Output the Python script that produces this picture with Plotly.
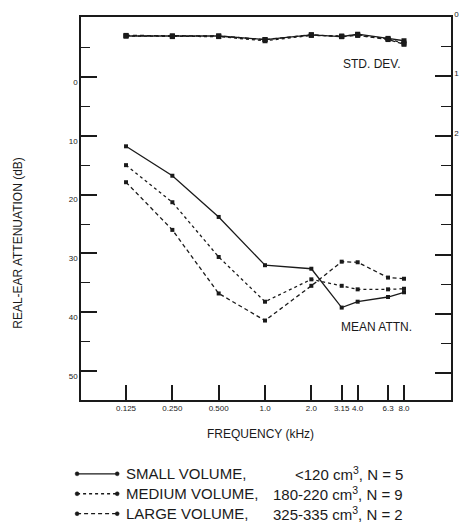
import plotly.graph_objects as go

# ---- data ----
freq_khz = [0.125, 0.25, 0.5, 1.0, 2.0, 3.15, 4.0, 6.3, 8.0]
freq_labels = ["0.125", "0.250", "0.500", "1.0", "2.0", "3.15", "4.0", "6.3", "8.0"]

mean_small = [11.8, 16.8, 23.8, 32.0, 32.6, 39.2, 38.2, 37.4, 36.6]
mean_medium = [15.0, 21.3, 30.6, 38.2, 34.4, 35.5, 36.1, 36.1, 36.0]
mean_large = [17.9, 26.0, 36.8, 41.4, 35.5, 31.4, 31.5, 34.1, 34.3]

sd_small = [0.32, 0.32, 0.32, 0.38, 0.30, 0.33, 0.29, 0.36, 0.40]
sd_medium = [0.32, 0.33, 0.33, 0.40, 0.31, 0.32, 0.30, 0.37, 0.44]
sd_large = [0.31, 0.32, 0.32, 0.38, 0.30, 0.33, 0.31, 0.38, 0.46]

series_names = ["SMALL VOLUME,", "MEDIUM VOLUME,", "LARGE VOLUME,"]
series_volumes = ["<120 cm<sup>3</sup>, N = 5", "180-220 cm<sup>3</sup>, N = 9", "325-335 cm<sup>3</sup>, N = 2"]

left_tick_vals = [0, 10, 20, 30, 40, 50]
right_tick_vals = [0, 1, 2]
right_unlabeled_ticks = [3, 4, 5, 6]

# ---- layout geometry ----
W, H = 469, 525
L, R, T, B = 81, 459, 16, 400
INK = "#1a1a1a"
FONT = "Liberation Sans, Arial, sans-serif"

dashes = ["solid", "dot", "4px,3px"]


def px2paper(x, y):
    return (x - L) / (R - L), (B - y) / (B - T)


fig = go.Figure()

means = [mean_small, mean_medium, mean_large]
sds = [sd_small, sd_medium, sd_large]
for i in range(3):
    fig.add_trace(go.Scatter(
        x=freq_khz, y=means[i], mode="lines+markers", yaxis="y",
        line=dict(color=INK, width=1.3, dash=dashes[i]),
        marker=dict(color=INK, size=4, symbol="square"),
        showlegend=False, name=series_names[i]))
    fig.add_trace(go.Scatter(
        x=freq_khz, y=sds[i], mode="lines+markers", yaxis="y2",
        line=dict(color=INK, width=1.3, dash=dashes[i]),
        marker=dict(color=INK, size=5, symbol="square"),
        showlegend=False, name=series_names[i] + " SD"))

annotations = []
shapes = []


def label(x, y, text, size=12, xanchor="center", angle=0):
    ax, ay = px2paper(x, y)
    annotations.append(dict(x=ax, y=ay, xref="paper", yref="paper", text=text,
                            xanchor=xanchor, yanchor="middle", textangle=angle,
                            showarrow=False, font=dict(size=size, color=INK, family=FONT)))


label(378, 63, "STD. DEV.")
label(383, 327, "MEAN ATTN.")
label(264, 434, "FREQUENCY (kHz)")
label(17, 242, "REAL-EAR ATTENUATION (dB)", angle=-90)

# legend rows
row_y = [474, 494, 514]
for i in range(3):
    x0, y0 = px2paper(77, row_y[i])
    x1, _ = px2paper(118, row_y[i])
    shapes.append(dict(type="line", xref="paper", yref="paper", x0=x0, x1=x1, y0=y0, y1=y0,
                       line=dict(color=INK, width=1.3, dash=dashes[i])))
    for xx in (77, 118):
        cx, cy = px2paper(xx, row_y[i])
        dx = 2.0 / (R - L)
        dy = 2.0 / (B - T)
        shapes.append(dict(type="circle", xref="paper", yref="paper",
                           x0=cx - dx, x1=cx + dx, y0=cy - dy, y1=cy + dy,
                           fillcolor=INK, line=dict(color=INK, width=0.5)))
    label(125, row_y[i], series_names[i], size=15, xanchor="left")
    label(412, row_y[i], series_volumes[i], size=15, xanchor="right")

fig.update_layout(
    width=W, height=H,
    margin=dict(l=L, r=W - R, t=T, b=H - B, pad=0),
    paper_bgcolor="white", plot_bgcolor="white",
    font=dict(family=FONT, color=INK),
    showlegend=False,
    xaxis=dict(type="log", range=[-1.1957, 1.2085],
               tickvals=freq_khz, ticktext=freq_labels,
               ticks="inside", ticklen=15, tickwidth=1.5, tickcolor=INK,
               showline=True, linecolor=INK, linewidth=1.5, mirror=True,
               showgrid=False, zeroline=False,
               tickfont=dict(size=8, color=INK, family=FONT)),
    yaxis=dict(range=[54.9, -10.17], tickvals=left_tick_vals,
               ticks="inside", ticklen=16, tickwidth=1.5, tickcolor=INK,
               minor=dict(dtick=5, tick0=0, ticks="inside", ticklen=9, tickwidth=1.3, tickcolor=INK),
               showline=True, linecolor=INK, linewidth=1.5,
               showgrid=False, zeroline=False, ticklabelshift=-5,
               tickfont=dict(size=8, color=INK, family=FONT)),
    yaxis2=dict(range=[6.45, 0], overlaying="y", side="right",
                tickvals=right_tick_vals,
                ticks="inside", ticklen=16, tickwidth=1.5, tickcolor=INK,
                minor=dict(dtick=0.5, tick0=0, ticks="inside", ticklen=10, tickwidth=1.3, tickcolor=INK),
                showline=True, linecolor=INK, linewidth=1.5,
                showgrid=False, zeroline=False, ticklabelshift=3,
                tickfont=dict(size=8, color=INK, family=FONT)),
    yaxis3=dict(range=[6.45, 0], overlaying="y", side="right",
                tickvals=right_unlabeled_ticks, showticklabels=False,
                ticks="inside", ticklen=16, tickwidth=1.5, tickcolor=INK,
                showline=False, showgrid=False, zeroline=False),
    annotations=annotations, shapes=shapes,
)
# invisible anchor trace so yaxis3 is drawn
fig.add_trace(go.Scatter(x=[freq_khz[0]], y=[right_unlabeled_ticks[0]], yaxis="y3",
                         mode="markers", marker=dict(opacity=0), showlegend=False,
                         hoverinfo="skip"))

fig.write_html("out.html")
